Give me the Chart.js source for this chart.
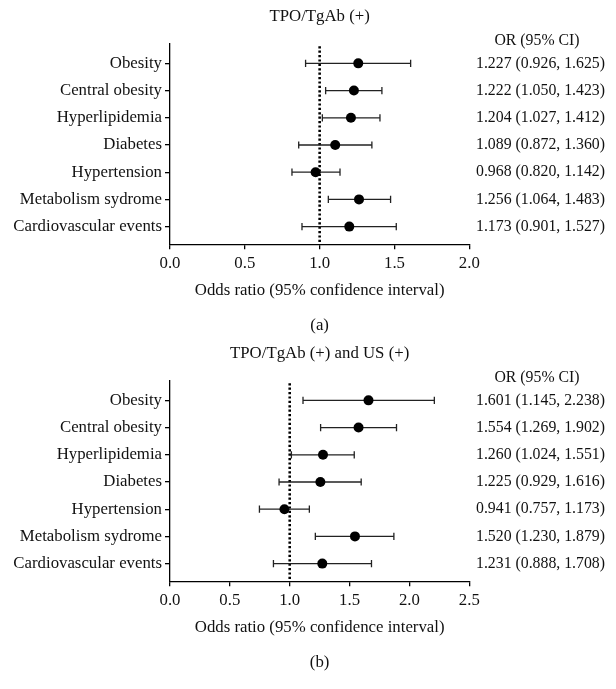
<!DOCTYPE html>
<html>
<head>
<meta charset="utf-8">
<script src="https://cdn.jsdelivr.net/npm/chart.js@4"></script>
<style>
  html, body { margin: 0; padding: 0; background: #fff; }
  .panel { width: 616px; position: relative; }
  canvas { display: block; }
</style>
</head>
<body>
<div class="panel"><canvas id="chartA" width="616" height="337"></canvas></div>
<div class="panel"><canvas id="chartB" width="616" height="352"></canvas></div>
<script>
  const CATEGORIES = ["Obesity", "Central obesity", "Hyperlipidemia", "Diabetes",
    "Hypertension", "Metabolism sydrome", "Cardiovascular events"];

  // panel (a): TPO/TgAb (+)
  const OR_TEXT_A = ["1.227 (0.926, 1.625)", "1.222 (1.050, 1.423)", "1.204 (1.027, 1.412)",
    "1.089 (0.872, 1.360)", "0.968 (0.820, 1.142)", "1.256 (1.064, 1.483)", "1.173 (0.901, 1.527)"];
  const POINT_A = [1.258, 1.229, 1.209, 1.104, 0.973, 1.263, 1.198];
  const LOW_A   = [0.906, 1.040, 1.018, 0.860, 0.815, 1.058, 0.882];
  const HIGH_A  = [1.608, 1.416, 1.403, 1.349, 1.136, 1.474, 1.512];

  // panel (b): TPO/TgAb (+) and US (+)
  const OR_TEXT_B = ["1.601 (1.145, 2.238)", "1.554 (1.269, 1.902)", "1.260 (1.024, 1.551)",
    "1.225 (0.929, 1.616)", "0.941 (0.757, 1.173)", "1.520 (1.230, 1.879)", "1.231 (0.888, 1.708)"];
  const POINT_B = [1.658, 1.575, 1.278, 1.256, 0.956, 1.545, 1.272];
  const LOW_B   = [1.111, 1.258, 1.014, 0.911, 0.747, 1.214, 0.864];
  const HIGH_B  = [2.208, 1.892, 1.539, 1.597, 1.164, 1.870, 1.683];

  const REF_OR = 1.0;
  const X_MAX_A = 2.0;
  const X_MAX_B = 2.5;
  const X_STEP = 0.5;

  const FONT = '"Liberation Serif", "DejaVu Serif", serif';
  const INK = "#111";
  const Y_MIN = 0.27, Y_MAX = 7.65;

  Chart.defaults.font.family = FONT;
  Chart.defaults.color = INK;

  const panelText = {
    id: "panelText",
    afterDraw(chart, args, opts) {
      const { ctx, chartArea } = chart;
      const cx = (chartArea.left + chartArea.right) / 2;
      ctx.save();
      ctx.fillStyle = INK;
      ctx.textAlign = "center";
      ctx.textBaseline = "middle";
      ctx.font = `16.8px ${FONT}`;
      ctx.fillText(opts.title, cx, 17);
      ctx.fillText("Odds ratio (95% confidence interval)", cx, chartArea.bottom + 46);
      ctx.fillText(opts.panel, cx, chartArea.bottom + 81);
      ctx.font = `15.8px ${FONT}`;
      ctx.fillText("OR (95% CI)", 537, chartArea.top - 2.5);
      ctx.restore();
    },
  };

  function rowTicks(scale) {
    scale.ticks = CATEGORIES.map((_, i) => ({ value: i + 1 }));
  }

  function makeChart(id, points, lows, highs, orText, xMax, title, panel, bottomPad) {
    const ciSets = points.map((_, i) => ({
      type: "scatter",
      data: [{ x: lows[i], y: i + 1 }, { x: highs[i], y: i + 1 }],
      showLine: true,
      borderColor: "#222",
      borderWidth: 1.3,
      pointStyle: "line",
      pointRadius: 3.6,
      pointRotation: 90,
      pointBorderColor: "#222",
      pointBorderWidth: 1.3,
      order: 2,
    }));

    return new Chart(document.getElementById(id), {
      type: "scatter",
      data: {
        datasets: [
          {
            data: [{ x: REF_OR, y: Y_MIN + 0.1 }, { x: REF_OR, y: Y_MAX }],
            showLine: true,
            borderColor: "#000",
            borderWidth: 2.6,
            borderDash: [2.2, 2.2],
            pointRadius: 0,
            order: 3,
          },
          ...ciSets,
          {
            data: points.map((v, i) => ({ x: v, y: i + 1 })),
            pointRadius: 5,
            backgroundColor: "#000",
            borderWidth: 0,
            order: 1,
          },
        ],
      },
      options: {
        responsive: false,
        animation: false,
        events: [],
        layout: { padding: { top: 43.5, right: 11, left: 0, bottom: bottomPad } },
        plugins: {
          legend: { display: false },
          tooltip: { enabled: false },
          panelText: { title, panel },
        },
        scales: {
          x: {
            type: "linear",
            min: 0,
            max: xMax,
            ticks: { stepSize: X_STEP, callback: (v) => v.toFixed(1), font: { size: 16.8 }, padding: 4, color: INK },
            grid: { drawOnChartArea: false, drawTicks: true, tickLength: 5, color: "#000", lineWidth: 1.3 },
            border: { display: true, color: "#000", width: 1.3 },
            afterFit: (s) => { s.height = 92.7; },
          },
          y: {
            type: "linear",
            reverse: true,
            min: Y_MIN,
            max: Y_MAX,
            afterBuildTicks: rowTicks,
            ticks: { callback: (v) => CATEGORIES[v - 1], font: { size: 16.8 }, padding: 3, color: INK },
            grid: { drawOnChartArea: false, drawTicks: true, tickLength: 5, color: "#000", lineWidth: 1.3 },
            border: { display: true, color: "#000", width: 1.3 },
            afterFit: (s) => { s.width = 170; },
          },
          y2: {
            type: "linear",
            position: "right",
            reverse: true,
            min: Y_MIN,
            max: Y_MAX,
            afterBuildTicks: rowTicks,
            ticks: { callback: (v) => orText[v - 1], font: { size: 15.8 }, crossAlign: "far", padding: 0, color: INK },
            grid: { display: false, drawTicks: false },
            border: { display: false },
            afterFit: (s) => { s.width = 616 - 11 - 469.3; },
          },
        },
      },
      plugins: [panelText],
    });
  }

  makeChart("chartA", POINT_A, LOW_A, HIGH_A, OR_TEXT_A, X_MAX_A, "TPO/TgAb (+)", "(a)", 0);
  makeChart("chartB", POINT_B, LOW_B, HIGH_B, OR_TEXT_B, X_MAX_B, "TPO/TgAb (+) and US (+)", "(b)", 15);
</script>
</body>
</html>
